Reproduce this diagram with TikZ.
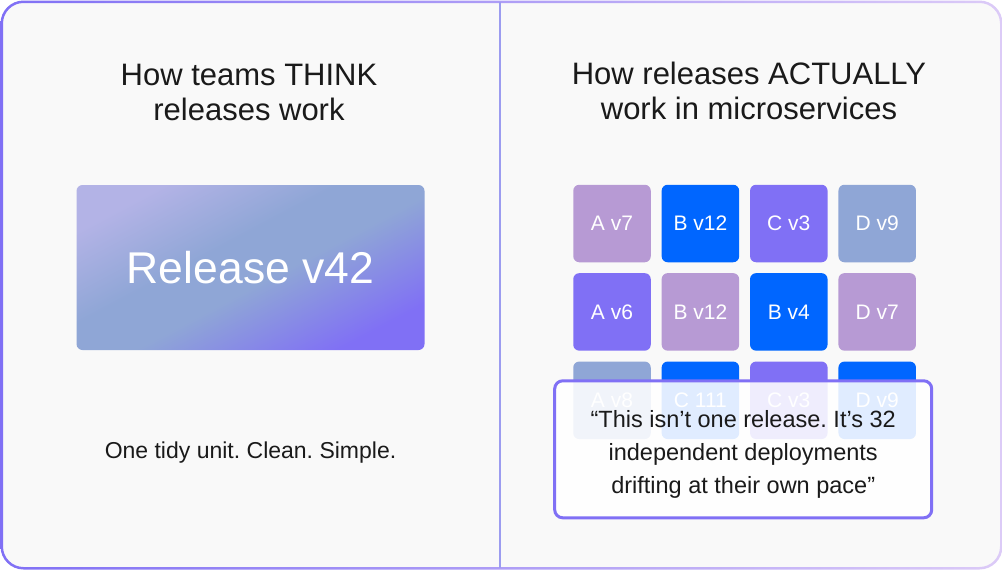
\documentclass[tikz,border=0pt]{standalone}
\usepackage{fontspec}
\setmainfont{Liberation Sans}
\usepackage{tikz}
\usetikzlibrary{positioning}
\definecolor{PageBg}{HTML}{F9F9F9}
\definecolor{Violet}{HTML}{8070F5}
\definecolor{Lilac}{HTML}{B79AD4}
\definecolor{BrightBlue}{HTML}{0066FF}
\definecolor{SlateBlue}{HTML}{8FA6D6}
\definecolor{PaleLilac}{HTML}{DCCBF7}
\definecolor{Haze}{HTML}{B3B3E6}
\definecolor{Divider}{HTML}{9C9CF0}
\definecolor{Ink}{HTML}{1A1A1A}
\pgfdeclarehorizontalshading{relshade}{100bp}{color(0bp)=(Haze); color(25bp)=(Haze); color(43bp)=(SlateBlue); color(54bp)=(SlateBlue); color(75bp)=(Violet); color(100bp)=(Violet)}
\frenchspacing

\begin{document}
\begin{tikzpicture}[x=1pt, y=-1pt,
  tile/.style={rounded corners=6pt, minimum width=77.5pt, minimum height=77.5pt, inner sep=0pt, text=white, font=\fontsize{21}{25}\selectfont},
  headline/.style={align=center, text=Ink, font=\fontsize{31}{35}\selectfont},
  relbox/.style={rounded corners=6pt, shading=relshade, shading angle=-62, minimum width=348pt, minimum height=165pt, text=white, font=\fontsize{44.5}{50}\selectfont},
  quotebox/.style={draw=Violet, line width=3pt, rounded corners=8pt, fill=white, fill opacity=0.88, text opacity=1, minimum width=377pt, minimum height=137pt, align=center, text=Ink, font=\fontsize{23.5}{33}\selectfont},
  node distance=10.5pt]
\useasboundingbox (0,0) rectangle (1003,570);
% card and frame
\fill[PageBg, rounded corners=22pt] (1.5,1.5) rectangle (1001.5,568.5);
\shade[left color=Violet, middle color=SlateBlue, right color=PaleLilac, even odd rule]
  [rounded corners=23pt] (0.5,0.5) rectangle (1002.5,569.5)
  [rounded corners=20.5pt] (3,3) rectangle (1000,567);
\draw[Divider, line width=2pt] (499.5,2) -- (499.5,568);

% left half
\node[headline] (think) at (249,92) {How teams THINK\\releases work};
\node[relbox] (rel) at (250.5,267.5) {Release v42};
\node[text=Ink, anchor=base, font=\fontsize{23}{27}\selectfont] (tidy) at (250.5,458.3) {One tidy unit. Clean. Simple.};

% right half
\node[headline] (actual) at (749,90.5) {How releases ACTUALLY\\work in microservices};
\node[tile, fill=Lilac] (r1c1) at (612,223.5) {A v7};
\node[tile, fill=BrightBlue, right=of r1c1] (r1c2) {B v12};
\node[tile, fill=Violet, right=of r1c2] (r1c3) {C v3};
\node[tile, fill=SlateBlue, right=of r1c3] (r1c4) {D v9};
\node[tile, fill=Violet, below=of r1c1] (r2c1) {A v6};
\node[tile, fill=Lilac, right=of r2c1] (r2c2) {B v12};
\node[tile, fill=BrightBlue, right=of r2c2] (r2c3) {B v4};
\node[tile, fill=Lilac, right=of r2c3] (r2c4) {D v7};
\node[tile, fill=SlateBlue, below=of r2c1] (r3c1) {A v8};
\node[tile, fill=BrightBlue, right=of r3c1] (r3c2) {C 111};
\node[tile, fill=Violet, right=of r3c2] (r3c3) {C v3};
\node[tile, fill=BrightBlue, right=of r3c3] (r3c4) {D v9};
\node[quotebox] (quote) at (743.2,449.3) {\rule{0pt}{27pt}“This isn’t one release. It’s 32\\independent deployments\\drifting at their own pace”};
\end{tikzpicture}
\end{document}
